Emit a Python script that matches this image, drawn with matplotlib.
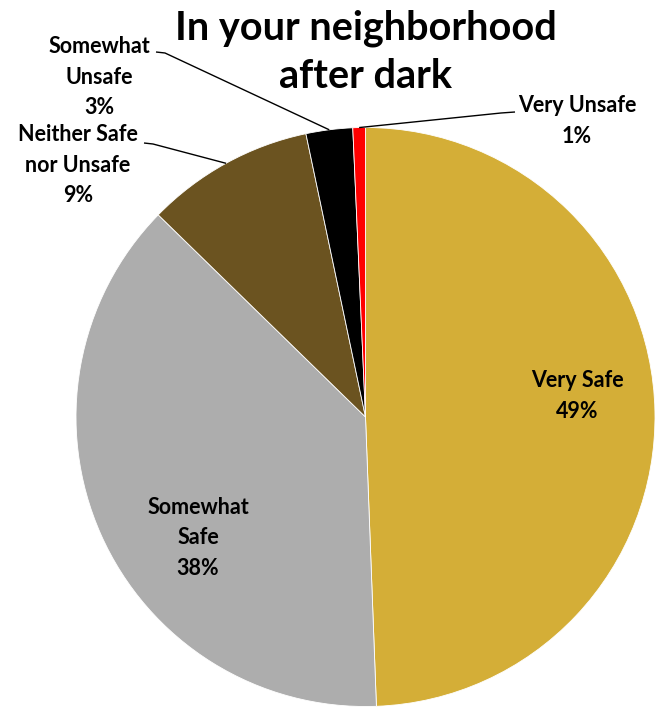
import numpy as np
import matplotlib
matplotlib.use("Agg")
import matplotlib.pyplot as plt

categories = ["Very Safe", "Somewhat\nSafe", "Neither Safe\nnor Unsafe", "Somewhat\nUnsafe", "Very Unsafe"]
values = [49.4, 37.9, 9.4, 2.6, 0.7]
colors = ["#D4AE37", "#ADADAD", "#6B5320", "#000000", "#FF0000"]
title = "In your neighborhood\nafter dark"

W, H = 656, 708
fig = plt.figure(figsize=(W / 100, H / 100), dpi=100)
cx, cy, R = 365.5, 417.0, 289.5
ax = fig.add_axes([(cx - R) / W, (H - cy - R) / H, 2 * R / W, 2 * R / H])

wedges, _ = ax.pie(values, colors=colors, startangle=90, counterclock=False, radius=1,
                   wedgeprops=dict(edgecolor="white", linewidth=0.6))
ax.set_xlim(-1, 1)
ax.set_ylim(-1, 1)
ax.set_aspect("auto")
ax.axis("off")

font = dict(family=["Lato", "DejaVu Sans"], fontweight="bold", fontsize=15.5)

def px(x, y):
    return ((x - cx) / R, (cy - y) / R)

def label_text(i):
    return f"{categories[i]}\n{values[i]:.0f}%"

# inside labels
ax.text(*px(577, 396), label_text(0), ha="center", va="center", linespacing=1.55, **font)
ax.text(*px(198, 538), label_text(1), ha="center", va="center", linespacing=1.55, **font)

# outside labels with leaders
outside = {2: (78, 165, 144, 143, "right"), 3: (99, 77, 156, 52, "right"), 4: (577, 121, 515, 112, "left")}
for i, (lx, ly, ex, ey, side) in outside.items():
    w = wedges[i]
    mid = np.deg2rad((w.theta1 + w.theta2) / 2)
    tip = (np.cos(mid), np.sin(mid))
    ax.text(*px(lx, ly), label_text(i), ha="center", va="center", linespacing=1.55,
            clip_on=False, **font)
    elbow_x = ex + (9 if side == "right" else -14)
    x0, y0 = px(ex, ey)
    x1, y1 = px(elbow_x, ey + 1)
    ax.plot([x0, x1, tip[0]], [y0, y1, tip[1]], color="black", lw=1.0, clip_on=False,
            solid_capstyle="butt")

fig.text(cx / W, 1 - 52 / H, title, ha="center", va="center",
         family=["Lato", "DejaVu Sans"], fontweight="bold", fontsize=28.5, linespacing=1.35)

fig.savefig("out.png", dpi=100)
